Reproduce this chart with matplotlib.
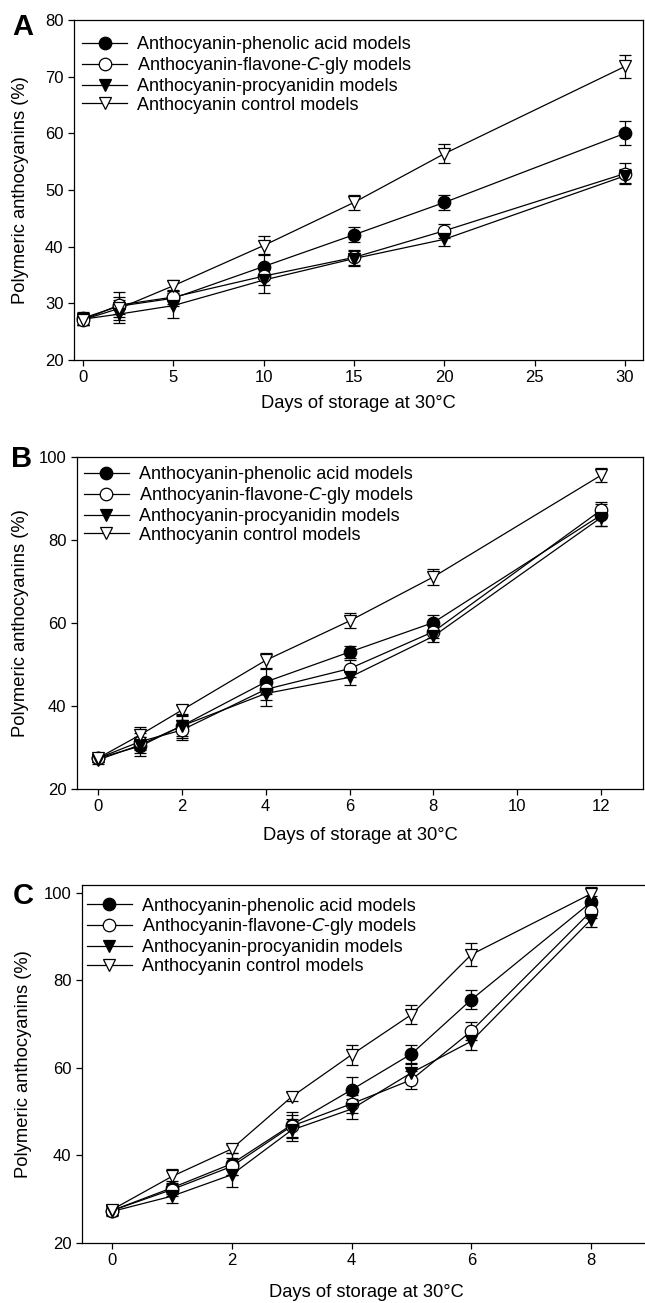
import matplotlib
matplotlib.use("Agg")
import matplotlib.pyplot as plt
from matplotlib.lines import Line2D

plt.rcParams['font.family'] = ['Liberation Sans', 'DejaVu Sans']

series_names = ["Anthocyanin-phenolic acid models",
                "Anthocyanin-flavone-$\\mathit{C}$-gly models",
                "Anthocyanin-procyanidin models",
                "Anthocyanin control models"]

# ---- Panel A ----
days_a = [0, 2, 5, 10, 15, 20, 30]
a_phenolic = [27.4, 29.5, 30.9, 36.5, 42.1, 47.8, 60.0]
a_phenolic_err = [1.0, 2.5, 1.3, 2.2, 1.3, 1.4, 2.1]
a_flavone = [27.1, 29.7, 31.1, 34.8, 38.1, 42.8, 52.9]
a_flavone_err = [1.0, 1.5, 1.2, 1.5, 1.4, 1.2, 1.8]
a_procyanidin = [27.2, 28.1, 29.6, 34.1, 37.9, 41.3, 52.5]
a_procyanidin_err = [1.0, 1.5, 2.2, 2.3, 1.3, 1.2, 1.2]
a_control = [27.1, 29.1, 33.1, 40.2, 47.8, 56.4, 71.8]
a_control_err = [1.0, 1.5, 1.0, 1.6, 1.4, 1.7, 2.0]

# ---- Panel B ----
days_b = [0, 1, 2, 4, 6, 8, 12]
b_phenolic = [27.4, 30.3, 35.2, 45.8, 53.0, 60.1, 86.0]
b_phenolic_err = [1.0, 2.3, 2.8, 3.0, 1.5, 1.8, 2.6]
b_flavone = [27.4, 31.4, 34.2, 44.0, 49.0, 57.9, 87.2]
b_flavone_err = [1.0, 2.0, 2.5, 2.5, 2.0, 1.5, 2.0]
b_procyanidin = [27.0, 30.6, 35.2, 43.0, 46.9, 56.8, 85.4]
b_procyanidin_err = [1.0, 2.0, 2.5, 3.0, 1.8, 1.3, 2.0]
b_control = [27.4, 33.0, 39.0, 51.0, 60.5, 71.1, 95.6]
b_control_err = [1.0, 2.0, 1.2, 1.8, 1.8, 2.0, 1.7]

# ---- Panel C ----
days_c = [0, 1, 2, 3, 4, 5, 6, 8]
c_phenolic = [27.4, 32.6, 38.1, 47.0, 55.0, 63.2, 75.6, 97.9]
c_phenolic_err = [1.0, 1.5, 2.5, 3.0, 2.9, 2.0, 2.2, 1.5]
c_flavone = [27.4, 32.2, 37.5, 46.7, 51.8, 57.3, 68.4, 95.8]
c_flavone_err = [1.0, 1.5, 2.0, 2.5, 2.0, 2.0, 2.0, 1.5]
c_procyanidin = [27.2, 30.7, 35.6, 45.8, 50.6, 58.9, 66.1, 93.9]
c_procyanidin_err = [1.0, 1.5, 2.8, 2.5, 2.2, 2.0, 2.1, 1.8]
c_control = [27.6, 35.2, 41.5, 53.4, 63.0, 72.2, 85.9, 99.8]
c_control_err = [1.0, 1.8, 1.0, 1.0, 2.3, 2.1, 2.6, 1.5]

panel_letters = ["A", "B", "C"]
xlabel_text = "Days of storage at 30\u00b0C"
ylabel_text = "Polymeric anthocyanins (%)"

styles = [dict(marker='o', mfc='black'),
          dict(marker='o', mfc='white'),
          dict(marker='v', mfc='black'),
          dict(marker='v', mfc='white')]

W, H = 645, 1303
fig = plt.figure(figsize=(W / 100, H / 100), dpi=100)


def px_axes(left, top, right, bottom):
    return fig.add_axes([left / W, 1 - bottom / H, (right - left) / W, (bottom - top) / H])


panels = [
    dict(rect=(74, 20, 643, 360), xlim=(-0.5, 31), ylim=(20, 80),
         xticks=[0, 5, 10, 15, 20, 25, 30], yticks=[20, 30, 40, 50, 60, 70, 80],
         days=days_a,
         data=[(a_phenolic, a_phenolic_err), (a_flavone, a_flavone_err),
               (a_procyanidin, a_procyanidin_err), (a_control, a_control_err)],
         leg=(0.014, 0.952), letter=(12, 35), right_spine=True, ylab_x=21, xpad=7),
    dict(rect=(77, 457, 643, 789), xlim=(-0.5, 13), ylim=(20, 100),
         xticks=[0, 2, 4, 6, 8, 10, 12], yticks=[20, 40, 60, 80, 100],
         days=days_b,
         data=[(b_phenolic, b_phenolic_err), (b_flavone, b_flavone_err),
               (b_procyanidin, b_procyanidin_err), (b_control, b_control_err)],
         leg=(0.012, 0.972), letter=(11, 467), right_spine=True, ylab_x=21, xpad=9),
    dict(rect=(82, 885, 651, 1243), xlim=(-0.5, 9), ylim=(20, 101.8),
         xticks=[0, 2, 4, 6, 8], yticks=[20, 40, 60, 80, 100],
         days=days_c,
         data=[(c_phenolic, c_phenolic_err), (c_flavone, c_flavone_err),
               (c_procyanidin, c_procyanidin_err), (c_control, c_control_err)],
         leg=(0.008, 0.965), letter=(13, 904), right_spine=False, ylab_x=24, xpad=11),
]

for i, p in enumerate(panels):
    ax = px_axes(*p['rect'])
    for (vals, errs), st in zip(p['data'], styles):
        ax.plot(p['days'], vals, color='black', lw=0.9, zorder=2)
        ax.errorbar(p['days'], vals, yerr=errs, fmt='none', ecolor='black',
                    elinewidth=0.9, capsize=4.3, capthick=0.9, zorder=3)
        ax.plot(p['days'], vals, linestyle='none', marker=st['marker'],
                mfc=st['mfc'], mec='black', mew=0.9, ms=9, zorder=4)
    ax.set_xlim(*p['xlim'])
    ax.set_ylim(*p['ylim'])
    ax.set_xticks(p['xticks'])
    ax.set_yticks(p['yticks'])
    ax.tick_params(direction='out', length=4.5, width=0.9, labelsize=12,
                   top=False, right=False, pad=3)
    for s in ax.spines.values():
        s.set_linewidth(0.9)
    if not p['right_spine']:
        ax.spines['right'].set_visible(False)
    ax.set_xlabel(xlabel_text, fontsize=13.2, labelpad=p['xpad'])
    ax.set_ylabel(ylabel_text, fontsize=13.2, va='center')
    left, top, right, bottom = p['rect']
    ax.yaxis.set_label_coords((p['ylab_x'] - left) / (right - left), 0.5)

    handles = [Line2D([0], [0], color='black', lw=0.9, marker=st['marker'],
                      mfc=st['mfc'], mec='black', mew=0.9, ms=9) for st in styles]
    ax.legend(handles, series_names, loc='upper left', bbox_to_anchor=p['leg'],
              frameon=False, fontsize=13, handlelength=2.5, handletextpad=0.55,
              labelspacing=0.1, borderpad=0, borderaxespad=0)

    lx, ly = p['letter']
    fig.text(lx / W, 1 - ly / H, panel_letters[i], fontsize=21, fontweight='bold',
             ha='left', va='baseline')

fig.savefig("out.png", dpi=100)
